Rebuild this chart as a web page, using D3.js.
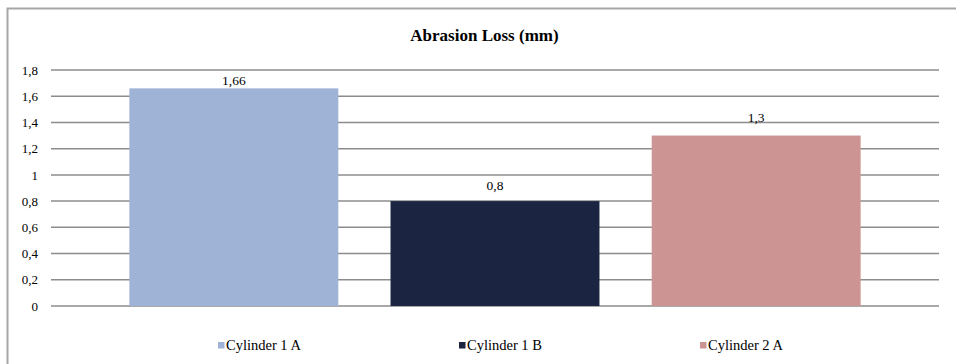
<!DOCTYPE html>
<html>
<head>
<meta charset="utf-8">
<script src="https://cdn.jsdelivr.net/npm/d3@7/dist/d3.min.js"></script>
<style>
  html, body { margin: 0; padding: 0; background: #fff; }
  svg { display: block; }
</style>
</head>
<body>
<svg id="chart" width="956" height="364"></svg>
<script>
// Abrasion loss per cylinder sample
const categories = ["Cylinder 1 A", "Cylinder 1 B", "Cylinder 2 A"];
const values = [1.66, 0.8, 1.3];
const valueLabels = ["1,66", "0,8", "1,3"];
const colors = ["#9fb3d6", "#1b2541", "#cc9594"];
const yTicks = [0, 0.2, 0.4, 0.6, 0.8, 1, 1.2, 1.4, 1.6, 1.8];
const title = "Abrasion Loss (mm)";

// layout: gap between each value label's baseline and its bar top
const labelGap = [3, 11, 14];
const FONT = "Liberation Serif";

const svg = d3.select("#chart");

// outer chart frame (left and top edges visible)
svg.append("path")
  .attr("d", "M7.5,364 V8.5 H956")
  .attr("fill", "none")
  .attr("stroke", "#a6a6a6")
  .attr("stroke-width", 2);

const plot = { left: 51, right: 939, top: 70, bottom: 306 };

const x = d3.scaleBand()
  .domain(categories)
  .range([plot.left, plot.right])
  .paddingInner(0.2)
  .paddingOuter(0.3);

const y = d3.scaleLinear()
  .domain([0, 1.8])
  .range([plot.bottom, plot.top]);

// horizontal gridlines
svg.append("g")
  .selectAll("line")
  .data(yTicks)
  .join("line")
  .attr("x1", plot.left)
  .attr("x2", plot.right)
  .attr("y1", d => y(d))
  .attr("y2", d => y(d))
  .attr("stroke", "#8c8c8c")
  .attr("stroke-width", 1.5);

// y axis labels
const fmt = d => String(d).replace(".", ",");
const yAxis = d3.axisLeft(y).tickValues(yTicks).tickFormat(fmt).tickSize(0).tickPadding(13);
const yg = svg.append("g")
  .attr("transform", `translate(${plot.left},0)`)
  .call(yAxis);
yg.select(".domain").remove();
yg.selectAll("text")
  .style("font-family", FONT)
  .style("font-size", "13px")
  .attr("fill", "#000");

// bars
svg.append("g")
  .selectAll("rect")
  .data(values)
  .join("rect")
  .attr("x", (d, i) => x(categories[i]))
  .attr("width", x.bandwidth())
  .attr("y", d => y(d))
  .attr("height", d => y(0) - y(d))
  .attr("fill", (d, i) => colors[i]);

// value labels
svg.append("g")
  .selectAll("text")
  .data(values)
  .join("text")
  .attr("x", (d, i) => x(categories[i]) + x.bandwidth() / 2)
  .attr("y", (d, i) => y(d) - labelGap[i])
  .attr("text-anchor", "middle")
  .style("font-family", FONT)
  .style("font-size", "13.5px")
  .attr("fill", "#000")
  .text((d, i) => valueLabels[i]);

// title
svg.append("text")
  .attr("x", 484.5)
  .attr("y", 41)
  .attr("text-anchor", "middle")
  .style("font-family", FONT)
  .style("font-size", "17px")
  .style("font-weight", "bold")
  .attr("fill", "#000")
  .text(title);

// legend
const legend = svg.append("g")
  .selectAll("g")
  .data(categories)
  .join("g")
  .attr("transform", (d, i) => `translate(${218 + i * 241},350)`);
legend.append("rect")
  .attr("x", 0)
  .attr("y", -8)
  .attr("width", 6.5)
  .attr("height", 6.5)
  .attr("fill", (d, i) => colors[i]);
legend.append("text")
  .attr("x", 8)
  .attr("y", 0)
  .style("font-family", FONT)
  .style("font-size", "14.5px")
  .attr("fill", "#000")
  .text(d => d);
</script>
</body>
</html>
